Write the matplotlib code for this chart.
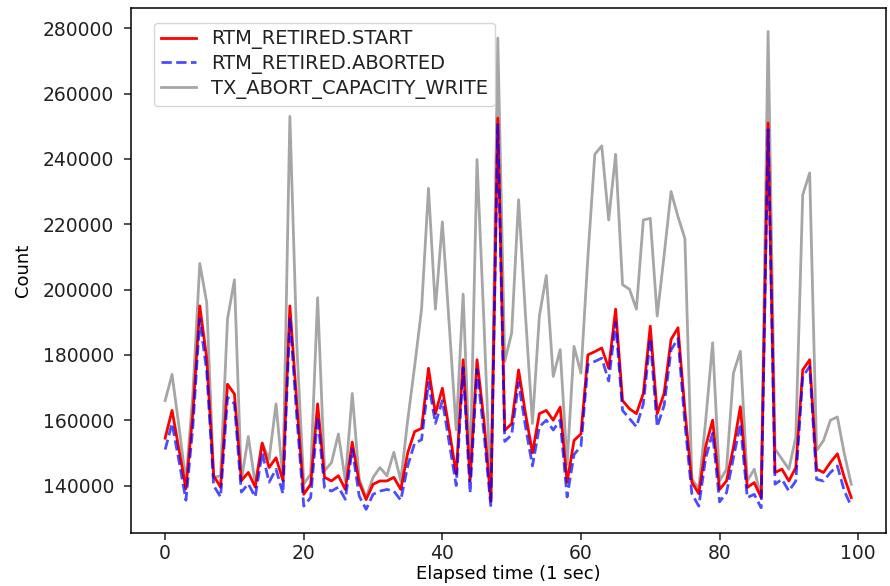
import numpy as np
import matplotlib
matplotlib.use('Agg')
import matplotlib.pyplot as plt

# values, one per second
rtm_start = [154500, 163000, 151000, 139000, 162000, 195000, 179000, 143000, 139500, 171000,
             168000, 141500, 144000, 139500, 153000, 145500, 148500, 141500, 195000, 165000,
             137300, 140400, 165000, 142500, 141400, 143000, 138800, 153300, 140900, 135700,
             140400, 141400, 141400, 142500, 138800, 150000, 156500, 157500, 175900, 162000,
             169800, 157000, 143500, 178500, 141400, 178500, 160000, 135200, 252500, 156900,
             158900, 175400, 162000, 150000, 162000, 163000, 160000, 164000, 141000, 153800,
             155800, 180000, 181000, 182100, 175900, 194000, 166000, 163500, 162000, 168200,
             188800, 162000, 168200, 184700, 188300, 163000, 141000, 137500, 152000, 160000,
             138800, 141400, 151700, 164100, 139400, 140900, 136300, 251000, 144000, 145000,
             141400, 145500, 175400, 178500, 145000, 144000, 147100, 149700, 142500, 136300]

rtm_aborted = [151000, 159000, 147500, 135500, 158000, 191000, 175000, 140000, 136500, 167000,
               165000, 138000, 140500, 136500, 150000, 141000, 145000, 137500, 191500, 161000,
               133700, 136300, 161000, 139400, 138300, 139500, 135800, 151200, 136800, 132700,
               137300, 138300, 138800, 138300, 135500, 146000, 153000, 154000, 171500, 159000,
               166000, 153000, 140000, 176000, 137800, 175500, 156000, 133500, 250500, 153500,
               155500, 171500, 158000, 146000, 158000, 160000, 157000, 160000, 136500, 149500,
               152000, 177000, 178000, 179000, 172000, 190000, 163000, 160500, 158000, 165000,
               185000, 158000, 164500, 181500, 185000, 159000, 137500, 133700, 148500, 156000,
               135000, 137800, 148500, 158900, 136300, 137300, 133200, 249000, 140400, 141900,
               138300, 141400, 173400, 176400, 141900, 141400, 144000, 146000, 138300, 133700]

tx_abort_cap_write = [166000, 174000, 158000, 141000, 168000, 208000, 196000, 142500, 143000, 191000,
                      203000, 141500, 155000, 140500, 153000, 148000, 165000, 142000, 253000, 183000,
                      140500, 143500, 197500, 144500, 147000, 155800, 141500, 168200, 142000, 136300,
                      142500, 145500, 143000, 150200, 141400, 160000, 176500, 194000, 231000, 194000,
                      220700, 189000, 157000, 198600, 143000, 239800, 190000, 136000, 277000, 178000,
                      186700, 227500, 192000, 159000, 191900, 204300, 173400, 181600, 146500, 182600,
                      174400, 210000, 241400, 244000, 221300, 241400, 201500, 200100, 194000, 221300,
                      221800, 191900, 210500, 230000, 222300, 215600, 142000, 139000, 160000, 183700,
                      141400, 145000, 174400, 181100, 141400, 145000, 136300, 279000, 151200, 148100,
                      145000, 154800, 229000, 235700, 150700, 153800, 160000, 161000, 149700, 140400]

t = np.arange(len(rtm_start))

plt.rcParams['font.size'] = 13.5
plt.rcParams['axes.linewidth'] = 1.1
plt.rcParams['xtick.major.size'] = 5
plt.rcParams['ytick.major.size'] = 5
plt.rcParams['xtick.major.width'] = 1.1
plt.rcParams['ytick.major.width'] = 1.1
plt.rcParams['ytick.major.pad'] = 7
plt.rcParams['xtick.major.pad'] = 3
plt.rcParams['text.color'] = '#222222'
plt.rcParams['xtick.color'] = '#222222'
plt.rcParams['ytick.color'] = '#222222'

fig = plt.figure(figsize=(8.9, 5.86), dpi=100)
ax = fig.add_axes([0.147, 0.09, 0.848, 0.897])

ax.plot(t, rtm_start, color='red', linewidth=2, label='RTM_RETIRED.START', zorder=3)
ax.plot(t, rtm_aborted, color='blue', linestyle='--', alpha=0.7, linewidth=2,
        label='RTM_RETIRED.ABORTED', zorder=4)
ax.plot(t, tx_abort_cap_write, color='gray', alpha=0.7, linewidth=2,
        label='TX_ABORT_CAPACITY_WRITE', zorder=2)

ax.set_xlabel('Elapsed time (1 sec)', fontsize=13, labelpad=1)
ax.set_ylabel('Count', fontsize=13, labelpad=8)
ax.set_yticks(np.arange(140000, 280001, 20000))
ax.legend(loc='upper left', bbox_to_anchor=(0.018, 0.99), fontsize=14,
          labelspacing=0.25, handlelength=1.8, borderpad=0.35)

fig.savefig('out.png', dpi=100)
